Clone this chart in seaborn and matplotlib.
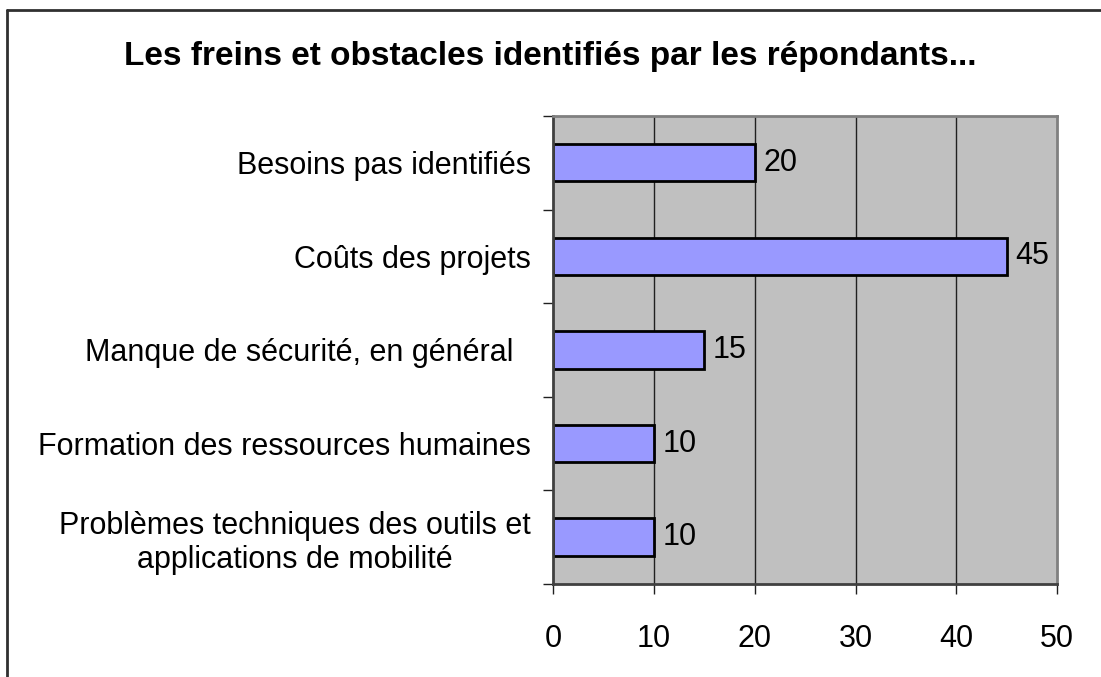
import matplotlib
matplotlib.use("Agg")
import matplotlib.pyplot as plt
import seaborn as sns
import pandas as pd
from matplotlib.lines import Line2D
from matplotlib.ticker import FixedLocator

# Données
obstacles = [
    "Besoins pas identifiés",
    "Coûts des projets",
    "Manque de sécurité, en général  ",
    "Formation des ressources humaines",
    "Problèmes techniques des outils et\napplications de mobilité",
]
valeurs = [20, 45, 15, 10, 10]
graduations = [0, 10, 20, 30, 40, 50]

df = pd.DataFrame({"obstacle": obstacles, "valeur": valeurs})

sns.set_style("white")
plt.rcParams["font.family"] = ["Liberation Sans", "DejaVu Sans"]
plt.rcParams["text.color"] = "black"
plt.rcParams["xtick.color"] = "black"
plt.rcParams["ytick.color"] = "black"
plt.rcParams["xtick.labelcolor"] = "black"
plt.rcParams["ytick.labelcolor"] = "black"

fig = plt.figure(figsize=(11.01, 6.77), dpi=100)
ax = fig.add_axes([0.5023, 0.1374, 0.458, 0.6913])
ax.set_facecolor("#C0C0C0")

sns.barplot(data=df, x="valeur", y="obstacle", orient="h", color="#9999FF",
            edgecolor="black", linewidth=2, width=0.4, saturation=1, ax=ax)

ax.set_xlim(0, 50)
ax.set_ylim(len(obstacles) - 0.5, -0.5)
ax.set_xticks(graduations)
ax.set_xticklabels([str(g) for g in graduations], fontsize=22)
ax.tick_params(axis="x", bottom=True, direction="out", length=7.5, width=1,
               color="#202020", pad=21)

# graduations mineures entre les catégories
ax.yaxis.set_minor_locator(FixedLocator([i - 0.5 for i in range(len(obstacles) + 1)]))
ax.tick_params(axis="y", which="major", left=True, length=0, pad=16)
ax.tick_params(axis="y", which="minor", left=True, direction="out", length=7.5,
               width=1, color="#202020")
for lab in ax.get_yticklabels():
    lab.set_fontsize(22)
    lab.set_multialignment("center")

for g in graduations[1:-1]:
    ax.axvline(g, color="#202020", linewidth=1, zorder=0)
ax.set_axisbelow(True)

for s in ax.spines.values():
    s.set_visible(True)
    s.set_color("#808080")
    s.set_linewidth(2)
ax.spines["left"].set_color("#404040")
ax.spines["bottom"].set_color("#404040")

for cont in ax.containers:
    ax.bar_label(cont, labels=[str(v) for v in valeurs], padding=6, fontsize=22)

ax.set_xlabel("")
ax.set_ylabel("")

fig.text(0.5, 0.916, "Les freins et obstacles identifiés par les répondants...",
         ha="center", va="center", fontsize=24, fontweight="bold")

# cadre de la zone graphique
fig.add_artist(Line2D([0.0064, 1.0], [0.985, 0.985], color="#303030", linewidth=2))
fig.add_artist(Line2D([0.0064, 0.0064], [0.0, 0.985], color="#303030", linewidth=2))

fig.savefig("out.png", dpi=100)
